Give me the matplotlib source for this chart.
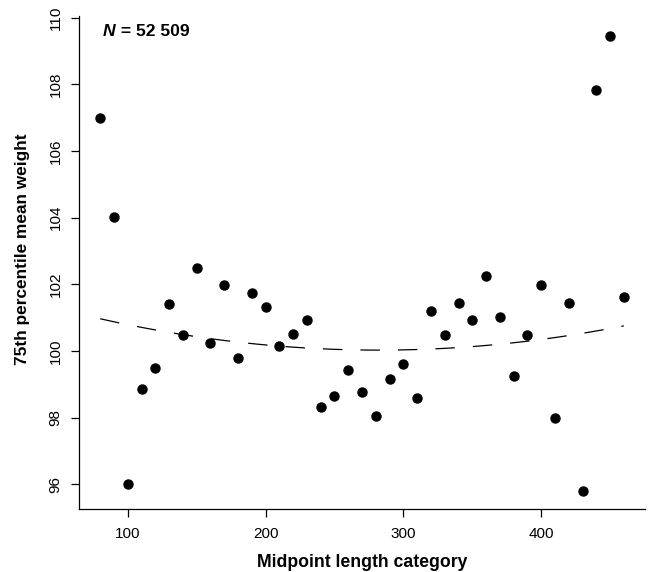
import numpy as np
import matplotlib.pyplot as plt

plt.rcParams['font.family'] = ['Liberation Sans', 'DejaVu Sans']
plt.rcParams['lines.scale_dashes'] = False

# midpoint length categories and 75th percentile mean weight
length_mid = [80, 90, 100, 110, 120, 130, 140, 150, 160, 170,
              180, 190, 200, 210, 220, 230, 240, 250, 260, 270,
              280, 290, 300, 310, 320, 330, 340, 350, 360, 370,
              380, 390, 400, 410, 420, 430, 440, 450, 460]
weight_75 = [107.0, 104.03, 96.0, 98.86, 99.5, 101.4, 100.47, 102.49, 100.23, 101.97,
             99.79, 101.74, 101.32, 100.16, 100.51, 100.93, 98.31, 98.66, 99.42, 98.78,
             98.06, 99.16, 99.61, 98.59, 101.21, 100.49, 101.43, 100.94, 102.25, 101.01,
             99.26, 100.48, 101.97, 97.99, 101.43, 95.81, 107.83, 109.46, 101.61]

# fitted trend (dashed)
trend_x = [80, 108, 150, 178, 206, 234, 262, 283, 311, 340, 368, 396, 424, 459]
trend_y = [100.96, 100.73, 100.43, 100.27, 100.17, 100.08, 100.03, 100.03,
           100.04, 100.10, 100.20, 100.32, 100.49, 100.75]

x = np.array(length_mid)
y = np.array(weight_75)

# smooth quadratic through the read trend values
coef = np.polyfit(trend_x, trend_y, 2)
xs = np.linspace(80, 460, 200)

fig = plt.figure(figsize=(6.5, 5.72), dpi=100)
ax = fig.add_axes([0.122, 0.1096, 0.870, 0.8624])

ax.plot(x, y, 'o', color='black', markersize=6.5, linestyle='none')
ax.plot(xs, np.polyval(coef, xs), color='black', linewidth=0.9, dashes=(14, 13))

ax.set_xlim(64.8, 475.2)
ax.set_ylim(95.25, 110.05)
ax.set_xticks([100, 200, 300, 400])
ax.set_yticks([96, 98, 100, 102, 104, 106, 108, 110])

for s in ['top', 'right']:
    ax.spines[s].set_visible(False)
for s in ['left', 'bottom']:
    ax.spines[s].set_linewidth(0.9)
ax.tick_params(direction='out', length=6, width=0.9, labelsize=11)
ax.tick_params(axis='x', pad=7)
ax.tick_params(axis='y', pad=6)
for lab in ax.get_yticklabels():
    lab.set_rotation(90)
    lab.set_va('center')

ax.set_xlabel('Midpoint length category', fontsize=12.7, fontweight='bold', labelpad=9)
ax.set_ylabel('75th percentile mean weight', fontsize=12.4, fontweight='bold', labelpad=13)
ax.yaxis.set_label_coords(-0.088, 0.528)

t1 = ax.text(82, 109.58, 'N', fontsize=12.6, fontweight='bold', fontstyle='italic',
             ha='left', va='center')
ax.annotate(' = 52 509', xy=(1, 0.5), xycoords=t1, fontsize=12.6, fontweight='bold',
            ha='left', va='center')

fig.savefig('out.png', dpi=100)
